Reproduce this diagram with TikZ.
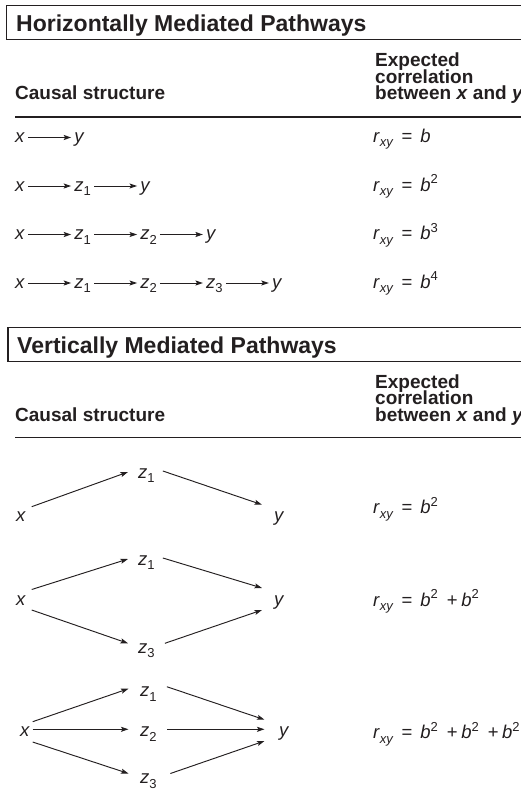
\documentclass[tikz,border=0pt]{standalone}
\usepackage{fontspec}
\setmainfont{Liberation Sans}
\usetikzlibrary{positioning,arrows.meta}
\definecolor{ink}{HTML}{231F20}
\newcommand\lo[1]{\raisebox{-4.5pt}{\fontsize{13}{13}\selectfont #1}}
\newcommand\hi[1]{\raisebox{7.5pt}{\fontsize{13}{13}\selectfont #1}}
\newcommand\eqsp{\hspace{8pt}}
\newcommand\plussp{\hspace{9pt}+\hspace{3.5pt}}
\begin{document}
\begin{tikzpicture}[x=1pt,y=1pt,
  every node/.style={text=ink, inner sep=0pt},
  ttl/.style={anchor=base west, font=\fontsize{23}{23}\selectfont\bfseries},
  colhead/.style={anchor=base west, font=\fontsize{19}{19}\selectfont\bfseries},
  var/.style={font=\fontsize{18.5}{18.5}\selectfont, inner xsep=3pt, inner ysep=0pt, text height=10pt, text depth=0pt},
  vv/.style={anchor=base west, font=\fontsize{18.5}{18.5}\selectfont},
  eqn/.style={anchor=base west, font=\fontsize{18.5}{18.5}\selectfont},
  arr/.style={draw=ink, line width=0.95pt, -{Stealth[length=7.5pt,width=5pt,inset=1.5pt]}},
  boxline/.style={draw=ink, line width=1.1pt},
  rulel/.style={draw=ink, line width=1.8pt}]
\useasboundingbox (0,0) rectangle (521,-789);
\clip (0,0) rectangle (521,-789);

% ---------- Section 1 header ----------
\draw[boxline] (6.5,-5.5) rectangle (540,-39.5);
\node[ttl] (t1) at (16,-31.7) {Horizontally Mediated Pathways};
\node[colhead] (c1) at (15,-100) {Causal structure};
\node[colhead] (e11) at (375,-66.7) {Expected};
\node[colhead] (e12) at (375,-83.3) {correlation};
\node[colhead] (e13) at (375,-100) {between \textit{x} and \textit{y}};
\draw[rulel] (15,-116.7) -- (540,-116.7);

% ---------- Horizontal rows ----------
\node[var, anchor=base west] (a1x) at (12,-142.5) {\textit{x}};
\node[var, right=43pt of a1x] (a1y) {\textit{y}};
\draw[arr] (a1x) -- (a1y);
\node[eqn] (r1) at (373,-142.5) {\textit{r}\lo{\textit{xy}}\eqsp=\eqsp\textit{b}};

\node[var, anchor=base west] (a2x) at (12,-191) {\textit{x}};
\node[var, right=43pt of a2x] (a2z1) {\textit{z}\lo{1}};
\node[var, right=43pt of a2z1] (a2y) {\textit{y}};
\draw[arr] (a2x) -- (a2z1);
\draw[arr] (a2z1) -- (a2y);
\node[eqn] (r2) at (373,-191) {\textit{r}\lo{\textit{xy}}\eqsp=\eqsp\textit{b}\hi{2}};

\node[var, anchor=base west] (a3x) at (12,-239.5) {\textit{x}};
\node[var, right=43pt of a3x] (a3z1) {\textit{z}\lo{1}};
\node[var, right=43pt of a3z1] (a3z2) {\textit{z}\lo{2}};
\node[var, right=43pt of a3z2] (a3y) {\textit{y}};
\draw[arr] (a3x) -- (a3z1);
\draw[arr] (a3z1) -- (a3z2);
\draw[arr] (a3z2) -- (a3y);
\node[eqn] (r3) at (373,-239.5) {\textit{r}\lo{\textit{xy}}\eqsp=\eqsp\textit{b}\hi{3}};

\node[var, anchor=base west] (a4x) at (12,-288) {\textit{x}};
\node[var, right=43pt of a4x] (a4z1) {\textit{z}\lo{1}};
\node[var, right=43pt of a4z1] (a4z2) {\textit{z}\lo{2}};
\node[var, right=43pt of a4z2] (a4z3) {\textit{z}\lo{3}};
\node[var, right=43pt of a4z3] (a4y) {\textit{y}};
\draw[arr] (a4x) -- (a4z1);
\draw[arr] (a4z1) -- (a4z2);
\draw[arr] (a4z2) -- (a4z3);
\draw[arr] (a4z3) -- (a4y);
\node[eqn] (r4) at (373,-288) {\textit{r}\lo{\textit{xy}}\eqsp=\eqsp\textit{b}\hi{4}};

% ---------- Section 2 header ----------
\draw[boxline] (8,-327.5) rectangle (540,-361.5);
\node[ttl] (t2) at (17,-353.5) {Vertically Mediated Pathways};
\node[colhead] (c2) at (15,-421.5) {Causal structure};
\node[colhead] (e21) at (375,-388.2) {Expected};
\node[colhead] (e22) at (375,-404.8) {correlation};
\node[colhead] (e23) at (375,-421.5) {between \textit{x} and \textit{y}};
\draw[rulel] (15,-437.5) -- (540,-437.5);

% ---------- Diagram 1 ----------
\node[vv] (d1x) at (16,-521.7) {\textit{x}};
\node[vv] (d1z1) at (138,-478) {\textit{z}\lo{1}};
\node[vv] (d1y) at (274,-521.7) {\textit{y}};
\draw[arr] ([shift={(5.5,15)}]d1x.base east) -- ([shift={(-10,6)}]d1z1.base west);
\draw[arr] ([shift={(8,7)}]d1z1.base east) -- ([shift={(-12,17)}]d1y.base west);
\node[eqn] (r5) at (373,-513.5) {\textit{r}\lo{\textit{xy}}\eqsp=\eqsp\textit{b}\hi{2}};

% ---------- Diagram 2 ----------
\node[vv] (d2x) at (16,-605) {\textit{x}};
\node[vv] (d2z1) at (138,-565) {\textit{z}\lo{1}};
\node[vv] (d2y) at (274,-605) {\textit{y}};
\node[vv] (d2z3) at (138,-653.3) {\textit{z}\lo{3}};
\draw[arr] ([shift={(5.5,15.5)}]d2x.base east) -- ([shift={(-10,6)}]d2z1.base west);
\draw[arr] ([shift={(8,7)}]d2z1.base east) -- ([shift={(-12,17)}]d2y.base west);
\draw[arr] ([shift={(5.5,-5)}]d2x.base east) -- ([shift={(-10,10)}]d2z3.base west);
\draw[arr] ([shift={(10,10)}]d2z3.base east) -- ([shift={(-12,-5)}]d2y.base west);
\node[eqn] (r6) at (373,-606) {\textit{r}\lo{\textit{xy}}\eqsp=\eqsp\textit{b}\hi{2}\plussp\textit{b}\hi{2}};

% ---------- Diagram 3 ----------
\node[vv] (d3x) at (20,-736.7) {\textit{x}};
\node[vv] (d3z1) at (140,-696.7) {\textit{z}\lo{1}};
\node[vv] (d3z2) at (140,-736.7) {\textit{z}\lo{2}};
\node[vv] (d3z3) at (140,-783.5) {\textit{z}\lo{3}};
\node[vv] (d3y) at (279,-736.7) {\textit{y}};
\draw[arr] ([shift={(2.5,15)}]d3x.base east) -- ([shift={(-11.5,8)}]d3z1.base west);
\draw[arr] ([shift={(10,10)}]d3z1.base east) -- ([shift={(-14.5,17)}]d3y.base west);
\draw[arr] ([shift={(2.5,7.4)}]d3x.base east) -- ([shift={(-11.5,7.4)}]d3z2.base west);
\draw[arr] ([shift={(10.5,7.4)}]d3z2.base east) -- ([shift={(-14.5,7.4)}]d3y.base west);
\draw[arr] ([shift={(2.5,-5.3)}]d3x.base east) -- ([shift={(-11.5,10)}]d3z3.base west);
\draw[arr] ([shift={(13.5,10)}]d3z3.base east) -- ([shift={(-14.5,-4.3)}]d3y.base west);
\node[eqn] (r7) at (373,-738.5) {\textit{r}\lo{\textit{xy}}\eqsp=\eqsp\textit{b}\hi{2}\plussp\textit{b}\hi{2}\plussp\textit{b}\hi{2}};
\end{tikzpicture}
\end{document}
